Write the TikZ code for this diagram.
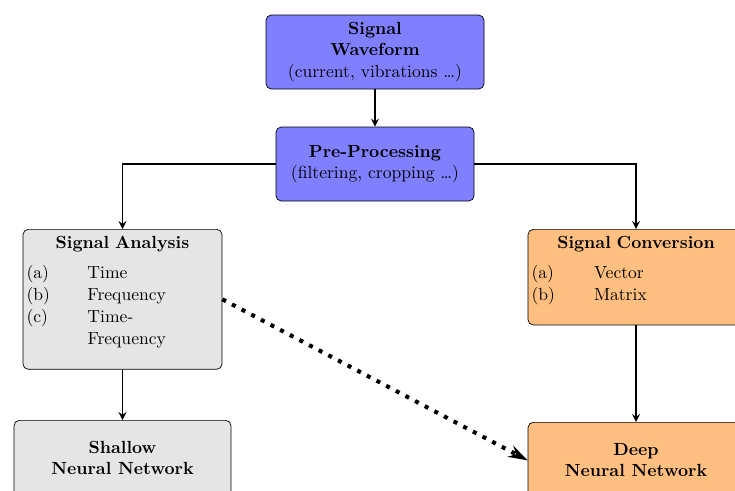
\documentclass[tikz,border=0pt]{standalone}
\usepackage{array}
\usetikzlibrary{arrows,arrows.meta}

\tikzset{
  box/.style={draw, rounded corners=3pt, align=center, inner xsep=2pt, inner ysep=4pt},
  listbox/.style={box, anchor=north},
  flow/.style={line width=1pt,-stealth},
}
\renewcommand{\arraystretch}{1.05}
% extra room under the last list entry
\newcommand{\listend}{\rule[-10pt]{0pt}{10pt}}

\begin{document}
\begin{tikzpicture}

 \useasboundingbox (0,0) rectangle (14.7,-9.8);

 % input and pre-processing
 \node[box, fill=blue!50, minimum width=4.36cm, minimum height=1.48cm] (wave) at (7.5,-1.04)
   {\textbf{Signal}\\ \textbf{Waveform}\\ (current, vibrations \ldots)};
 \node[box, fill=blue!50, minimum width=3.96cm, minimum height=1.48cm] (pre) at (7.5,-3.28)
   {\textbf{Pre-Processing}\\ (filtering, cropping \ldots)};

 % feature branches
 \node[listbox, fill=gray!20, text width=3.84cm] (ana) at (2.45,-4.58) {%
   \textbf{Signal Analysis}\par\vspace{5pt}
   \begin{tabular}{@{}p{1.22cm}@{}p{2.62cm}@{}}
   (a) & Time\\
   (b) & Frequency\\
   (c) & Time-\\
       & Frequency\listend
   \end{tabular}};
 \node[listbox, fill=orange!50, text width=4.18cm] (conv) at (12.72,-4.58) {%
   \textbf{Signal Conversion}\par\vspace{5pt}
   \begin{tabular}{@{}p{1.25cm}@{}p{2.93cm}@{}}
   (a) & Vector\\
   (b) & Matrix\listend
   \end{tabular}};

 % networks
 \node[listbox, fill=gray!20, minimum width=4.34cm, minimum height=1.52cm] (shallow) at (2.45,-8.40)
   {\textbf{Shallow}\\ \textbf{Neural Network}};
 \node[listbox, fill=orange!50, minimum width=4.32cm, minimum height=1.52cm] (deep) at (12.72,-8.44)
   {\textbf{Deep}\\ \textbf{Neural Network}};

 % arrows
 \draw[flow] (wave) -- (pre);
 \draw[flow] (pre.west) -| (ana.north);
 \draw[flow] (pre.east) -| (conv.north);
 \draw[flow] (ana) -- (shallow);
 \draw[flow] (conv) -- (deep);
 \draw[line width=2.3pt, dash pattern=on 2.3pt off 3.9pt, -{Stealth[length=11pt,width=7pt]}] (ana.east) -- (deep.west);

\end{tikzpicture}
\end{document}
